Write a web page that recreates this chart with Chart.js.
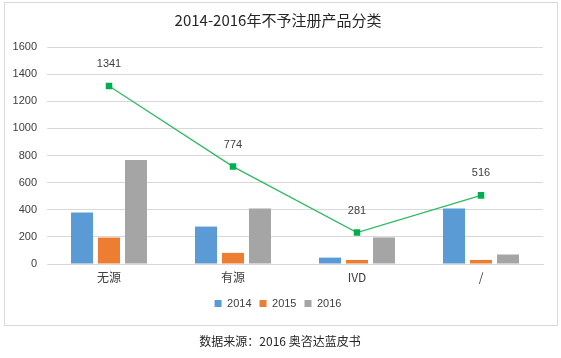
<!DOCTYPE html>
<html>
<head>
<meta charset="utf-8">
<script src="https://cdn.jsdelivr.net/npm/chart.js@4.4.1/dist/chart.umd.min.js"></script>
<style>
  html, body { margin: 0; padding: 0; background: #fff; }
  #wrap { width: 561px; height: 358px; position: relative; }
</style>
</head>
<body>
<div id="wrap"><canvas id="c" width="561" height="358"></canvas></div>
<script>
const categories = ['无源', '有源', 'IVD', '/'];
const seriesNames = ['2014', '2015', '2016'];
const values2014 = [380, 276, 47, 410];
const values2015 = [195, 82, 30, 30];
const values2016 = [766, 410, 196, 70];
const totalLine = [1313, 718, 232, 506];
const totalLabels = ['1341', '774', '281', '516'];
const yTicks = [0, 200, 400, 600, 800, 1000, 1200, 1400, 1600];
const titleText = '2014-2016年不予注册产品分类';
const sourceText = '数据来源：2016 奥咨达蓝皮书';

const FONT = '"Liberation Sans", "Noto Sans CJK SC", sans-serif';
const CJK = '"Noto Sans CJK SC", "Liberation Sans", sans-serif';

const frame = {
  id: 'frame',
  beforeDraw(chart) {
    const ctx = chart.ctx;
    ctx.save();
    ctx.fillStyle = '#ffffff';
    ctx.fillRect(0, 0, chart.width, chart.height);
    ctx.strokeStyle = '#d9d9d9';
    ctx.lineWidth = 1;
    ctx.strokeRect(4.5, 2.5, 553, 323);
    ctx.restore();
  },
  afterDraw(chart) {
    const ctx = chart.ctx;
    ctx.save();
    ctx.fillStyle = '#262626';
    ctx.font = '12px ' + CJK;
    ctx.textAlign = 'center';
    ctx.textBaseline = 'middle';
    ctx.fillText(sourceText, 280, 341);
    ctx.restore();
  }
};

const lineLabels = {
  id: 'lineLabels',
  afterDatasetsDraw(chart) {
    const meta = chart.getDatasetMeta(3);
    const ctx = chart.ctx;
    ctx.save();
    ctx.fillStyle = '#404040';
    ctx.font = '11px ' + FONT;
    ctx.textAlign = 'center';
    ctx.textBaseline = 'middle';
    meta.data.forEach((pt, i) => {
      ctx.fillText(totalLabels[i], pt.x, pt.y - 22);
    });
    ctx.restore();
  }
};

new Chart(document.getElementById('c'), {
  data: {
    labels: categories,
    datasets: [
      { type: 'bar', label: seriesNames[0], data: values2014, backgroundColor: '#5b9bd5', order: 2 },
      { type: 'bar', label: seriesNames[1], data: values2015, backgroundColor: '#ed7d31', order: 2 },
      { type: 'bar', label: seriesNames[2], data: values2016, backgroundColor: '#a5a5a5', order: 2 },
      { type: 'line', label: '合计', data: totalLine, borderColor: '#2cba62', backgroundColor: '#00b050',
        borderWidth: 1.2, pointStyle: 'rect', pointRadius: 4.6, pointBorderWidth: 0,
        pointBackgroundColor: '#00b050', tension: 0, fill: false, order: 1 }
    ]
  },
  options: {
    responsive: false,
    animation: false,
    devicePixelRatio: 1,
    datasets: { bar: { categoryPercentage: 0.653, barPercentage: 0.815 } },
    layout: { padding: { left: 13, right: 18, top: 5, bottom: 39 } },
    scales: {
      x: {
        afterFit(axis) { axis.height = 26; },
        grid: { display: false, drawTicks: false },
        border: { display: true, color: '#d9d9d9', width: 1 },
        ticks: { color: '#404040', font: { family: CJK, size: 12 }, padding: 6 }
      },
      y: {
        min: 0, max: 1600,
        afterFit(axis) { axis.width = 34; },
        afterBuildTicks(axis) { axis.ticks = yTicks.map(v => ({ value: v })); },
        grid: { color: '#d9d9d9', drawTicks: false, lineWidth: 1 },
        border: { display: false },
        ticks: { color: '#404040', font: { family: FONT, size: 11 }, padding: 10,
                 callback: v => String(v) }
      }
    },
    plugins: {
      title: {
        display: true, text: titleText, color: '#262626',
        font: { family: CJK, size: 15, weight: 'normal' },
        padding: { top: 6, bottom: 18 }
      },
      legend: {
        position: 'bottom',
        labels: {
          filter: item => item.datasetIndex < 3,
          boxWidth: 7, boxHeight: 7, padding: 8,
          color: '#404040', font: { family: FONT, size: 11 }
        }
      },
      tooltip: { enabled: false }
    }
  },
  plugins: [frame, lineLabels]
});
</script>
</body>
</html>
